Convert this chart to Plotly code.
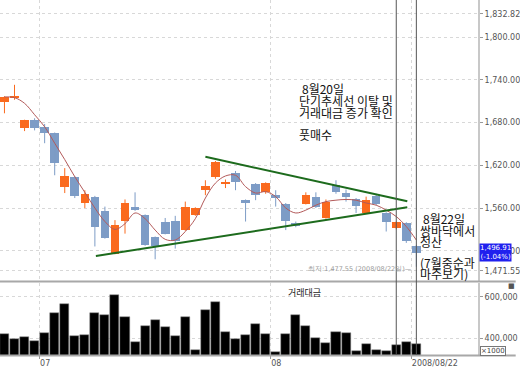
import plotly.graph_objects as go

# ---------------- data ----------------
dates = ["2008/06/25", "2008/06/26", "2008/06/27", "2008/06/30",
         "2008/07/01", "2008/07/02", "2008/07/03", "2008/07/04", "2008/07/07", "2008/07/08",
         "2008/07/09", "2008/07/10", "2008/07/11", "2008/07/14", "2008/07/15", "2008/07/16",
         "2008/07/17", "2008/07/18", "2008/07/21", "2008/07/22", "2008/07/23", "2008/07/24",
         "2008/07/25", "2008/07/28", "2008/07/29", "2008/07/30", "2008/07/31",
         "2008/08/01", "2008/08/04", "2008/08/05", "2008/08/06", "2008/08/07", "2008/08/08",
         "2008/08/11", "2008/08/12", "2008/08/13", "2008/08/14", "2008/08/18", "2008/08/19",
         "2008/08/20", "2008/08/21", "2008/08/22"]

opens = [1709, 1715, 1672, 1683, 1674, 1665, 1590, 1603, 1567, 1576, 1556, 1496, 1542, 1562,
         1550, 1519, 1541, 1542, 1529, 1550, 1585, 1603, 1594, 1609, 1571, 1594, 1582, 1578,
         1566, 1539, 1566, 1576, 1546, 1592, 1581, 1572, 1553, 1577, 1553, 1532, 1539, 1507]
highs = [1717, 1733, 1684, 1686, 1678, 1666, 1616, 1605, 1585, 1577, 1562, 1543, 1572, 1582,
         1551, 1520, 1546, 1549, 1569, 1561, 1599, 1626, 1600, 1612, 1572, 1595, 1596, 1585,
         1567, 1541, 1582, 1582, 1572, 1599, 1586, 1574, 1576, 1580, 1554, 1541, 1540, 1508]
lows = [1693, 1712, 1668, 1669, 1651, 1606, 1581, 1574, 1560, 1506, 1517, 1495, 1524, 1556,
        1507, 1488, 1523, 1503, 1528, 1549, 1578, 1601, 1588, 1585, 1541, 1571, 1580, 1562,
        1529, 1533, 1565, 1560, 1545, 1580, 1569, 1553, 1552, 1564, 1527, 1530, 1511, 1477.55]
closes = [1716, 1716.5, 1684, 1673, 1665, 1623, 1605, 1577, 1580, 1533, 1518, 1536, 1567, 1557,
          1508, 1507, 1524, 1513, 1562, 1560, 1591, 1625, 1597, 1597, 1567, 1578, 1595, 1574,
          1542, 1535, 1578, 1562, 1569, 1582, 1576, 1563, 1571, 1566, 1541, 1540, 1513, 1496.91]

ma_line = [1716, 1715, 1707, 1691, 1674, 1651, 1628, 1604, 1582, 1560, 1541, 1530, 1538, 1553,
           1545, 1529, 1516, 1515, 1527, 1545, 1574, 1595, 1605, 1606, 1590, 1581, 1583, 1576,
           1560, 1553, 1557, 1564, 1569, 1571, 1572, 1571, 1567, 1564, 1557, 1548, 1534, 1515]

# trading value (x1000)
volume = [417900, 393700, 404800, 385500, 425700, 519600, 564700, 408200, 413000, 521000,
          512900, 608200, 501700, 379000, 459600, 488600, 451800, 408200, 501700, 343500,
          535600, 575800, 430500, 393700, 413000, 467800, 417900, 332200, 417900, 511400,
          456700, 398500, 375800, 427600, 425700, 337000, 370900, 343500, 337000, 366100,
          380600, 369500]

upper_trend_x = [20.0, 40.1]
upper_trend_y = [1632, 1569.4]
lower_trend_x = [9.1, 40.1]
lower_trend_y = [1492.6, 1561]

price_ticks = [1832.82, 1800, 1740, 1680, 1620, 1560, 1500, 1471.55]
price_tick_text = ["1,832.82", "1,800.00", "1,740.00", "1,680.00", "1,620.00", "1,560.00",
                   "1,500.00", "1,471.55"]
vol_ticks = [600000, 400000]
vol_tick_text = ["600,000", "400,000"]
x_tick_pos = [3.5, 26.5, 40.5]
x_tick_text = ["07", "08", "2008/08/22"]

last_close = 1496.91
last_change = "-1.04%"
low_label = "최저:1,477.55 (2008/08/22일)—"
marker_days = ["2008/08/20", "2008/08/22"]

note1 = ["8월20일", "단기추세선 이탈 및", "거래대금 증가 확인", "풋매수"]
note2 = ["8월22일", "쌍바닥에서", "청산", "(7월중순과", "마주보기)"]

# ---------------- layout helpers ----------------
W, H = 520, 368
ML, MR, MT, MB = 0, 38, 0, 13
PW, PH = W - ML - MR, H - MT - MB


def px(xp):
    return (xp - ML) / PW


def py(yp):
    return (H - MB - yp) / PH


n = len(dates)
xi = list(range(n))
UP, DOWN = "#fa6a1e", "#7d9cc6"

fig = go.Figure()

# candle bodies
body_base = [min(o, c) for o, c in zip(opens, closes)]
body_h = [max(abs(c - o), 1.4) for o, c in zip(opens, closes)]
body_col = [UP if c >= o else DOWN for o, c in zip(opens, closes)]
fig.add_trace(go.Bar(x=xi, y=body_h, base=body_base, marker=dict(color=body_col, line=dict(width=0)),
                     width=0.86, xaxis="x", yaxis="y", hoverinfo="skip", showlegend=False))

# wicks
for col, cond in ((UP, True), (DOWN, False)):
    wx, wy = [], []
    for i in xi:
        if (closes[i] >= opens[i]) == cond:
            wx += [i, i, None]
            wy += [lows[i], highs[i], None]
    fig.add_trace(go.Scatter(x=wx, y=wy, mode="lines", line=dict(color=col, width=1),
                             xaxis="x", yaxis="y", hoverinfo="skip", showlegend=False))

# moving average
fig.add_trace(go.Scatter(x=xi, y=ma_line, mode="lines", line=dict(color="#b35a5a", width=1, shape="spline"),
                         xaxis="x", yaxis="y", hoverinfo="skip", showlegend=False))

# trend lines
for tx, ty in ((upper_trend_x, upper_trend_y), (lower_trend_x, lower_trend_y)):
    fig.add_trace(go.Scatter(x=tx, y=ty, mode="lines", line=dict(color="#1d6b1d", width=2),
                             xaxis="x", yaxis="y", hoverinfo="skip", showlegend=False))

# volume
fig.add_trace(go.Bar(x=xi, y=volume, marker=dict(color="#000000", line=dict(color="#888888", width=0.5)),
                     width=0.9, xaxis="x2", yaxis="y2", hoverinfo="skip", showlegend=False))

tickfont = dict(family="DejaVu Sans", size=8, color="#555555")
price_dom = [py(281), 1.0]
vol_dom = [0.0, py(283)]
x_range = [(0 - 4.5) / 10.13, (PW - 4.5) / 10.13]

fig.update_layout(
    width=W, height=H, margin=dict(l=ML, r=MR, t=MT, b=MB),
    paper_bgcolor="white", plot_bgcolor="white", bargap=0,
    xaxis=dict(domain=[0, 1], range=x_range, showticklabels=False, tickvals=x_tick_pos,
               showgrid=True, gridcolor="#d8d8d8", griddash="dot", zeroline=False, anchor="y"),
    yaxis=dict(domain=price_dom, range=[1457.5, 1852.1], side="right", tickvals=price_ticks,
               ticktext=price_tick_text, tickfont=tickfont, ticks="outside", ticklen=3,
               tickcolor="#999999", showline=True, linecolor="#c8c8c8", linewidth=2,
               showgrid=True, gridcolor="#d8d8d8", griddash="dot", zeroline=False, anchor="x"),
    xaxis2=dict(domain=[0, 1], range=x_range, tickvals=x_tick_pos, ticktext=x_tick_text,
                tickfont=tickfont, ticks="outside", ticklen=3, tickcolor="#999999",
                ticklabelposition="outside right", showgrid=True, gridcolor="#d8d8d8",
                griddash="dot", zeroline=False, anchor="y2", matches="x"),
    yaxis2=dict(domain=vol_dom, range=[317700, 666400], side="right", tickvals=vol_ticks,
                ticktext=vol_tick_text, tickfont=tickfont, ticks="outside", ticklen=3,
                tickcolor="#999999", showline=True, linecolor="#c8c8c8", linewidth=2,
                showgrid=True, gridcolor="#d8d8d8", griddash="dot", zeroline=False, anchor="x2"),
)

shapes = []
# pane separators
for yy in (281.5, 355.5):
    shapes.append(dict(type="line", xref="paper", yref="paper", x0=0, x1=px(W), y0=py(yy), y1=py(yy),
                       line=dict(color="#a8a8a8", width=2)))
# marker day verticals
for d in marker_days:
    k = dates.index(d)
    shapes.append(dict(type="line", xref="x", yref="paper", x0=k, x1=k, y0=0, y1=1,
                       line=dict(color="#555555", width=1)))
fig.update_layout(shapes=shapes)

ann = []
kfont = dict(family="Noto Sans CJK KR", size=12, color="#111111")
note1_pos = [(303, 88.5), (299, 100.5), (299, 112.5), (299, 134)]
for t, (xx, yy) in zip(note1, note1_pos):
    ann.append(dict(text=t, xref="paper", yref="paper", x=px(xx), y=py(yy), xanchor="left",
                    yanchor="middle", showarrow=False, font=kfont))
note2_pos = [(425, 218), (421, 230), (421, 241), (421, 262), (421, 273)]
for t, (xx, yy) in zip(note2, note2_pos):
    ann.append(dict(text=t, xref="paper", yref="paper", x=px(xx), y=py(yy), xanchor="left",
                    yanchor="middle", showarrow=False, font=kfont))

ann.append(dict(text=low_label, xref="paper", yref="paper", x=px(417), y=py(268.5), xanchor="right",
                yanchor="middle", showarrow=False,
                font=dict(family="DejaVu Sans", size=6.5, color="#9a9a9a")))
ann.append(dict(text=f"{last_close:,.2f}<br>({last_change})", xref="paper", yref="y", x=px(483),
                y=last_close, xanchor="left", yanchor="middle", showarrow=False, bgcolor="#2020ee",
                borderpad=0, font=dict(family="DejaVu Sans", size=7, color="white")))
ann.append(dict(text="거래대금", xref="paper", yref="paper", x=px(307), y=py(292), xanchor="center",
                yanchor="middle", showarrow=False,
                font=dict(family="Noto Sans CJK KR", size=9, color="#222222")))
ann.append(dict(text="×1000", xref="paper", yref="paper", x=px(484), y=py(350.5), xanchor="left",
                yanchor="middle", showarrow=False, bordercolor="#777777", borderwidth=1, borderpad=0,
                bgcolor="white", font=dict(family="DejaVu Sans", size=7, color="#444444")))
ann.append(dict(text="■", xref="paper", yref="paper", x=px(515.5), y=py(286), xanchor="center",
                yanchor="middle", showarrow=False, font=dict(family="DejaVu Sans", size=7, color="#555555")))
fig.update_layout(annotations=ann)

fig.write_html("out.html", config={"displayModeBar": False},
               post_script="document.body.style.margin='0';document.body.style.overflow='hidden';")
